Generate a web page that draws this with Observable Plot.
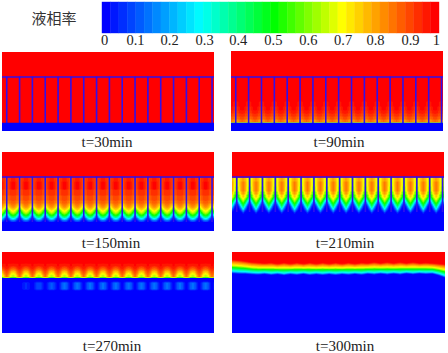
<!DOCTYPE html>
<html><head><meta charset="utf-8">
<script src="https://cdn.jsdelivr.net/npm/d3@7"></script>
<script src="https://cdn.jsdelivr.net/npm/@observablehq/plot@0.6"></script>
<style>
html,body{margin:0;padding:0;background:#fff}
#c{position:relative;width:448px;height:353px;overflow:hidden;font-family:"Liberation Serif",serif;color:#222}
#c>*{position:absolute}
#c svg{background:transparent;overflow:hidden;display:block}
.cap{font-size:15px;transform:translate(-50%,-50%);white-space:nowrap}
</style></head><body><div id="c"></div>
<script>
// colour legend
const legendTitle = "液相率";
const tickLabels = ["0","0.1","0.2","0.3","0.4","0.5","0.6","0.7","0.8","0.9","1"];
const tickPositions = [0.006,0.098,0.199,0.303,0.403,0.507,0.611,0.714,0.81,0.914,0.991];
const colorStops = [0,0.28,0.5,0.7,0.975];
const colorRange = ["#0000ff","#00ffff","#00ff00","#ffff00","#ff0000"];
const levels = d3.range(0,1,0.025);

// Liquid fraction, one row = [rows deep, at wall, 1/6 pitch, 1/3 pitch, mid channel]
const t30 = [[71,1,1,1,1],[8,0,0,0,0]];
const t90 = [[45,1,1,1,1],[5,.97,.99,1,1],[5,.95,.97,.99,1],[4,.93,.95,.975,.98],[3,.91,.93,.96,.97],[3,.88,.91,.93,.95],[3,.85,.88,.9,.92],[3,.8,.83,.86,.88],[8,0,0,0,0]];
const t150 = [[25,1,1,1,1],[4,.9,.93,.95,.96],[8,.9,.93,.97,1],[6,.88,.91,.94,.95],[5,.85,.88,.91,.92],[3,.8,.85,.88,.9],[2,.74,.8,.85,.87],[2,.68,.76,.82,.84],[2,.58,.7,.77,.8],[2,.45,.6,.7,.74],[2,.35,.5,.63,.68],[2,.22,.37,.52,.58],[2,.1,.25,.4,.45],[2,.02,.12,.26,.3],[2,0,.04,.12,.15],[10,0,0,0,0]];
const t210 = [[25,1,1,1,1],[4,.62,.72,.79,.81],[5,.6,.72,.81,.86],[5,.57,.7,.81,.86],[3,.5,.64,.77,.83],[3,.4,.57,.71,.78],[2,.3,.47,.63,.73],[2,.2,.36,.54,.67],[2,.08,.25,.45,.58],[2,0,.15,.35,.5],[2,0,.06,.25,.42],[2,0,.02,.15,.32],[2,0,0,.06,.2],[2,0,0,0,.08],[18,0,0,0,0]];
const t270 = [[11,1,1,1,1],[3,.98,.97,.96,.95],[2,.97,.95,.92,.9],[2,.95,.92,.87,.85],[2,.92,.88,.8,.78],[2,.9,.85,.75,.72],[3,.88,.8,.69,.66],[4,0,0,0,0],[1,0,.03,.06,.06],[7,0,.05,.12,.13],[1,0,.03,.06,.06],[44,0,0,0,0]];
const pocketStrength270 = [0,.4,.7,.8,1,1,1,1,1,1,1,1,1,1,1,1,1];
// t=300: no channel pattern, a band between two edges read at every half pitch
const redEdge300 = [7,7.5,8.5,9.5,10,10.5,10,11,10,11,10,11,10,11,10,11,10,11,10,11,10,10.5,9.5,10.5,9.5,10.5,9.5,10.5,9.5,10.5,10,10.5,11,11.5];
const blueEdge300 = [21,21.5,21.5,22,22.3,21.7,22.6,21.8,22.9,21.8,22.6,21.6,22.7,21.8,22.7,21.8,22.7,21.8,22.5,21.6,22.5,21.5,22.2,21.3,22.2,21.3,22.2,21.1,22,21.1,21.7,21.3,23,25.5];
const bandFractions300 = [0,.17,.42,.58,.83,1];
const bandValues300 = [1,.85,.7,.5,.28,0];

const wallIds = d3.range(0,17);
const xDomain = [-0.33,16.19];
const stepsPerPitch = 6;
const wallColor = "#3010ec";
const colorOpts = {type:"linear",domain:colorStops,range:colorRange,interpolate:"rgb"};

const panels = [
 {cap:"t=30min", rows:t30, left:2,  top:52, w:212,h:79, wallTop:24.5, wallBottom:71, baseLine:true, capX:107,capY:142},
 {cap:"t=90min", rows:t90, left:230.5,top:51,w:212.5,h:80, wallTop:25.5, wallBottom:72, baseLine:true, capX:339,capY:142},
 {cap:"t=150min",rows:t150,left:2,  top:152,w:212,h:79, wallTop:24.5, wallBottom:70, capX:111,capY:243},
 {cap:"t=210min",rows:t210,left:231.5,top:152,w:212.5,h:79, wallTop:24.5, wallBottom:60, capX:345,capY:243},
 {cap:"t=270min",rows:t270,left:2,  top:252,w:212,h:81, capX:112,capY:346, pockets:pocketStrength270},
 {cap:"t=300min",left:232,top:252,w:213,h:81, capX:345,capY:346, band:true}
];

function buildGrid(p){
  // grid samples sit on whole steps of the wall pitch; extended one sample past the frame on all sides
  const iStart = Math.floor(xDomain[0]*stepsPerPitch)-1, iEnd = Math.ceil(xDomain[1]*stepsPerPitch)+1;
  const cols = d3.range(iStart,iEnd+1);
  const values = [];
  const H = p.h+2;
  let rowTable = [];
  if(!p.band){
    for(const [n,...v] of p.rows) for(let k=0;k<n;k++) rowTable.push(v);
    while(rowTable.length<p.h) rowTable.push(rowTable[rowTable.length-1]);
    rowTable = [rowTable[0],...rowTable,rowTable[rowTable.length-1]];
  }
  const red = d3.scaleLinear(blueEdge300.map((_,i)=>i/2-1/3),redEdge300).clamp(true);
  const blue = d3.scaleLinear(blueEdge300.map((_,i)=>i/2-1/3),blueEdge300).clamp(true);
  const prof = d3.scaleLinear(bandFractions300,bandValues300).clamp(true);
  for(let r=0;r<H;r++){
    for(const i of cols){
      const x = i/stepsPerPitch;
      if(p.band){
        const f=(r-1+.5-red(x))/(blue(x)-red(x));
        values.push(prof(f));
      } else {
        const ph=((i%stepsPerPitch)+stepsPerPitch)%stepsPerPitch;
        const k=ph>3?6-ph:ph;
        let v=rowTable[r][k];
        if(p.pockets && r>26 && v>0){
          const ch=Math.max(0,Math.min(16,Math.floor(x)));
          v*=p.pockets[ch];
        }
        values.push(v);
      }
    }
  }
  return {values,width:cols.length,height:H,
    x1:(iStart-.5)/stepsPerPitch,x2:(iEnd+.5)/stepsPerPitch,y1:-1,y2:p.h+1};
}

const root=document.getElementById("c");

// legend
const title=document.createElement("div");
title.textContent=legendTitle;
title.style.cssText='left:54px;top:17px;transform:translate(-50%,-50%);font:15px "Noto Sans CJK SC",sans-serif;white-space:nowrap;color:#333';
root.appendChild(title);

const bar=Plot.plot({
  width:349,height:50,marginLeft:6,marginRight:6,marginTop:2,marginBottom:17,
  x:{domain:[0,1],axis:null},y:{axis:null},color:colorOpts,
  marks:[
    Plot.rect(levels,{x1:d=>d,x2:d=>Math.min(1,d+0.025),fill:d=>d,stroke:d=>d,strokeWidth:0.4}),
    Plot.text(tickLabels,{x:(d,i)=>tickPositions[i],text:d=>d,frameAnchor:"bottom",dy:11,fontSize:14.5,fontFamily:"Liberation Serif",fill:"#222"})
  ]});
bar.style.left="96px";bar.style.top="0px";
root.appendChild(bar);

for(const p of panels){
  const g=buildGrid(p);
  const marks=[
    Plot.frame({fill:"#0000ff",stroke:"none"}),
    Plot.contour(g.values,{width:g.width,height:g.height,x1:g.x1,x2:g.x2,y1:g.y1,y2:g.y2,fill:Plot.identity,thresholds:levels,clip:true,smooth:true})
  ];
  if(p.wallTop!==undefined){
    marks.push(Plot.ruleX(wallIds,{x:d=>d,y1:p.wallTop,y2:p.wallBottom,stroke:wallColor,strokeWidth:1.6}));
    marks.push(Plot.ruleY([p.wallTop],{stroke:wallColor,strokeWidth:1.3}));
    if(p.baseLine) marks.push(Plot.ruleY([p.wallBottom],{stroke:"#0000ff",strokeWidth:1.6}));
  }
  const svg=Plot.plot({
    width:p.w,height:p.h,margin:0,
    x:{domain:xDomain,axis:null},y:{domain:[0,p.h],range:[0,p.h],axis:null},
    color:colorOpts,marks});
  svg.style.left=p.left+"px";svg.style.top=p.top+"px";
  svg.style.maxWidth="none";
  root.appendChild(svg);
  const cap=document.createElement("div");
  cap.className="cap";cap.textContent=p.cap;
  cap.style.left=p.capX+"px";cap.style.top=p.capY+"px";
  root.appendChild(cap);
}
</script></body></html>
